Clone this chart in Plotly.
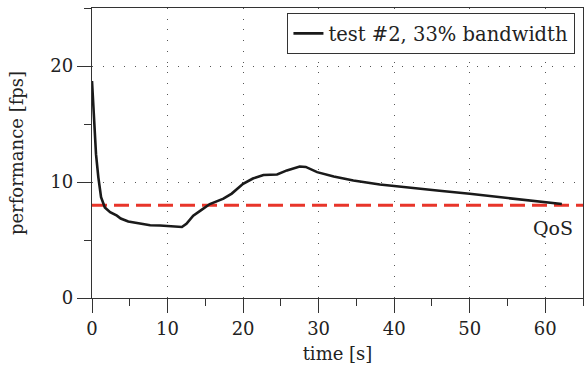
import plotly.graph_objects as go

time_s = [0, 0.17, 0.3, 0.53, 0.84, 1.2, 1.7, 2.4, 3.3, 3.8, 4.8, 6, 7.7, 9, 10.3, 11.3, 11.9,
          12.5, 13.4, 14.5, 15.6, 17.4, 18.5, 20, 21.3, 22.7, 24.5, 25.8, 27.5, 28.3, 29.8,
          32, 34.6, 38.1, 42, 46, 50, 54, 58, 62.2]
fps = [18.7, 16.7, 15, 12.4, 10.4, 8.7, 7.8, 7.4, 7.1, 6.85, 6.6, 6.45, 6.27, 6.25, 6.2, 6.15, 6.12,
       6.4, 7.1, 7.6, 8.1, 8.56, 9.0, 9.84, 10.3, 10.6, 10.65, 11.0, 11.33, 11.3, 10.85,
       10.47, 10.13, 9.79, 9.5, 9.25, 8.98, 8.7, 8.4, 8.1]
qos_level = 8
x_range = [0, 65]
y_range = [0, 25]
series_name = "test #2, 33% bandwidth"

FONT = "DejaVu Serif"
AX = "#333333"
TXT = "#222222"

fig = go.Figure()
fig.add_trace(go.Scatter(x=x_range, y=[qos_level, qos_level], mode="lines",
                         line=dict(color="#e8352a", width=3, dash="15px,7px"),
                         showlegend=False, hoverinfo="skip"))
fig.add_trace(go.Scatter(x=time_s, y=fps, mode="lines", name=series_name,
                         line=dict(color="#1a1a1a", width=2.6)))

fig.add_annotation(x=61, y=6.0, text="QoS", showarrow=False,
                   font=dict(family=FONT, size=19, color=TXT))

axis_common = dict(showline=True, linecolor=AX, linewidth=1.3, mirror=True,
                   ticks="outside", ticklen=14, tickwidth=1.3, tickcolor=AX,
                   showgrid=True, gridcolor="#555555", gridwidth=1, griddash="1px,9.7px",
                   zeroline=False, tickfont=dict(family=FONT, size=18, color=TXT))

fig.update_xaxes(range=x_range, dtick=10, tick0=0,
                 minor=dict(dtick=5, ticks="outside", ticklen=7, tickwidth=1.3, tickcolor=AX, showgrid=False),
                 title=dict(text="time [s]", font=dict(family=FONT, size=18, color=TXT), standoff=9),
                 **axis_common)
fig.update_yaxes(range=y_range, dtick=10, tick0=0,
                 minor=dict(dtick=5, ticks="outside", ticklen=7, tickwidth=1.3, tickcolor=AX, showgrid=False),
                 title=dict(text="performance [fps]", font=dict(family=FONT, size=18, color=TXT), standoff=22),
                 **axis_common)

fig.update_layout(
    width=586, height=369,
    margin=dict(l=92, r=3, t=8, b=71),
    plot_bgcolor="white", paper_bgcolor="white",
    font=dict(family=FONT, size=18, color=TXT),
    legend=dict(x=0.984, y=0.983, xanchor="right", yanchor="top",
                bordercolor="#333", borderwidth=1.3, bgcolor="white",
                font=dict(family=FONT, size=19.5, color=TXT)),
)

fig.write_html("out.html")
